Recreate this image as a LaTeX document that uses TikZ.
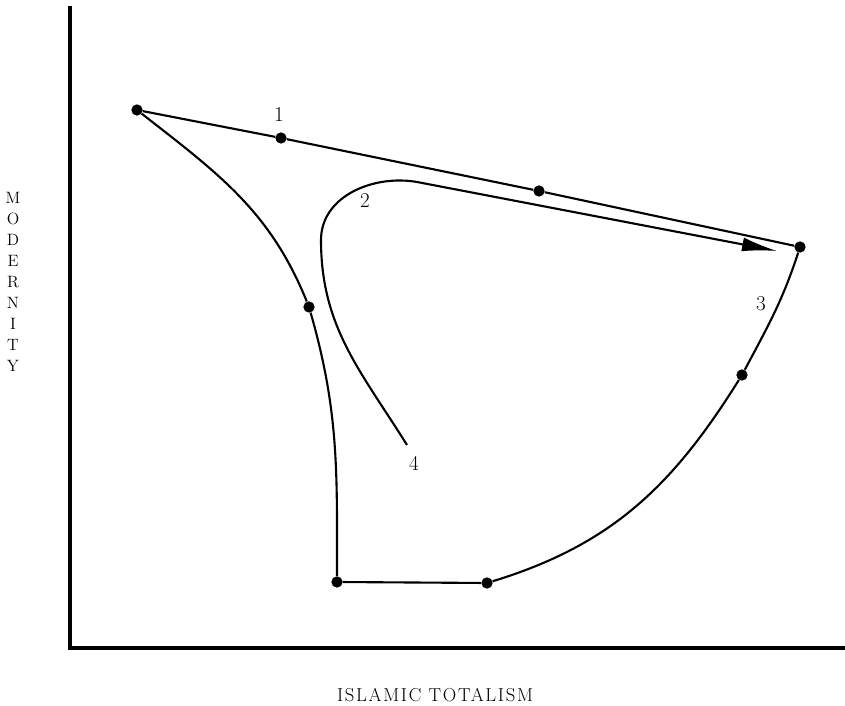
\documentclass[tikz,border=0pt]{standalone}
\usepackage{fontspec}
\setmainfont{Latin Modern Roman}
\newfontfamily\axisfont[LetterSpace=9]{Latin Modern Roman}
\usetikzlibrary{arrows.meta}
\tikzset{
  curve/.style={line width=1.8pt},
  axis/.style={line width=2.6pt},
  dot/.style={circle,fill,inner sep=0pt,minimum size=0.34cm},
  num/.style={font=\fontsize{18}{20}\selectfont},
}
\begin{document}
\begin{tikzpicture}[x=0.03cm,y=0.03cm]
    \useasboundingbox (0,0) rectangle (845,706);
    % axes
    \coordinate (ytop) at (70,700);
    \coordinate (orig) at (70,58);
    \coordinate (xend) at (845,58);
    \draw[axis] (ytop) -- (orig) -- (xend);
    \node[align=center,font=\fontsize{14}{17.9}\selectfont] (ylab) at (13,424) {M\\O\\D\\E\\R\\N\\I\\T\\Y};
    \node[font=\fontsize{16}{18}\selectfont\axisfont] (xlab) at (435,11) {ISLAMIC TOTALISM};
    % points
    \node[dot] (a) at (137,596) {};
    \node[dot] (b) at (281,568) {};
    \node[dot] (c) at (539,515) {};
    \node[dot] (d) at (800,459) {};
    \node[dot] (e) at (742,331) {};
    \node[dot] (f) at (487,123) {};
    \node[dot] (g) at (337,124) {};
    \node[dot] (h) at (309,399) {};
    % outer loop
    \draw[curve] (a) -- (b) -- (c) -- (d);
    \draw[curve] (d) to[out=-108,in=62] (e) to[out=-122,in=17] (f);
    \draw[curve] (f) -- (g);
    \draw[curve] (g) to[out=90,in=-74] (h) to[out=112,in=-38] (a);
    % inner path
    \coordinate (s) at (407,261);
    \coordinate (lft) at (321,466);
    \coordinate (jn) at (417,524);
    \coordinate (tip) at (777,455);
    \draw[curve,-{Latex[length=1.05cm,width=0.42cm]}] (s) to[out=122,in=-90] (lft) to[out=90,in=170] (jn) -- (tip);
    % labels
    \node[num] (n1) at (279,591) {1};
    \node[num] (n2) at (365,505) {2};
    \node[num] (n3) at (761,402) {3};
    \node[num] (n4) at (414,243) {4};
\end{tikzpicture}
\end{document}
